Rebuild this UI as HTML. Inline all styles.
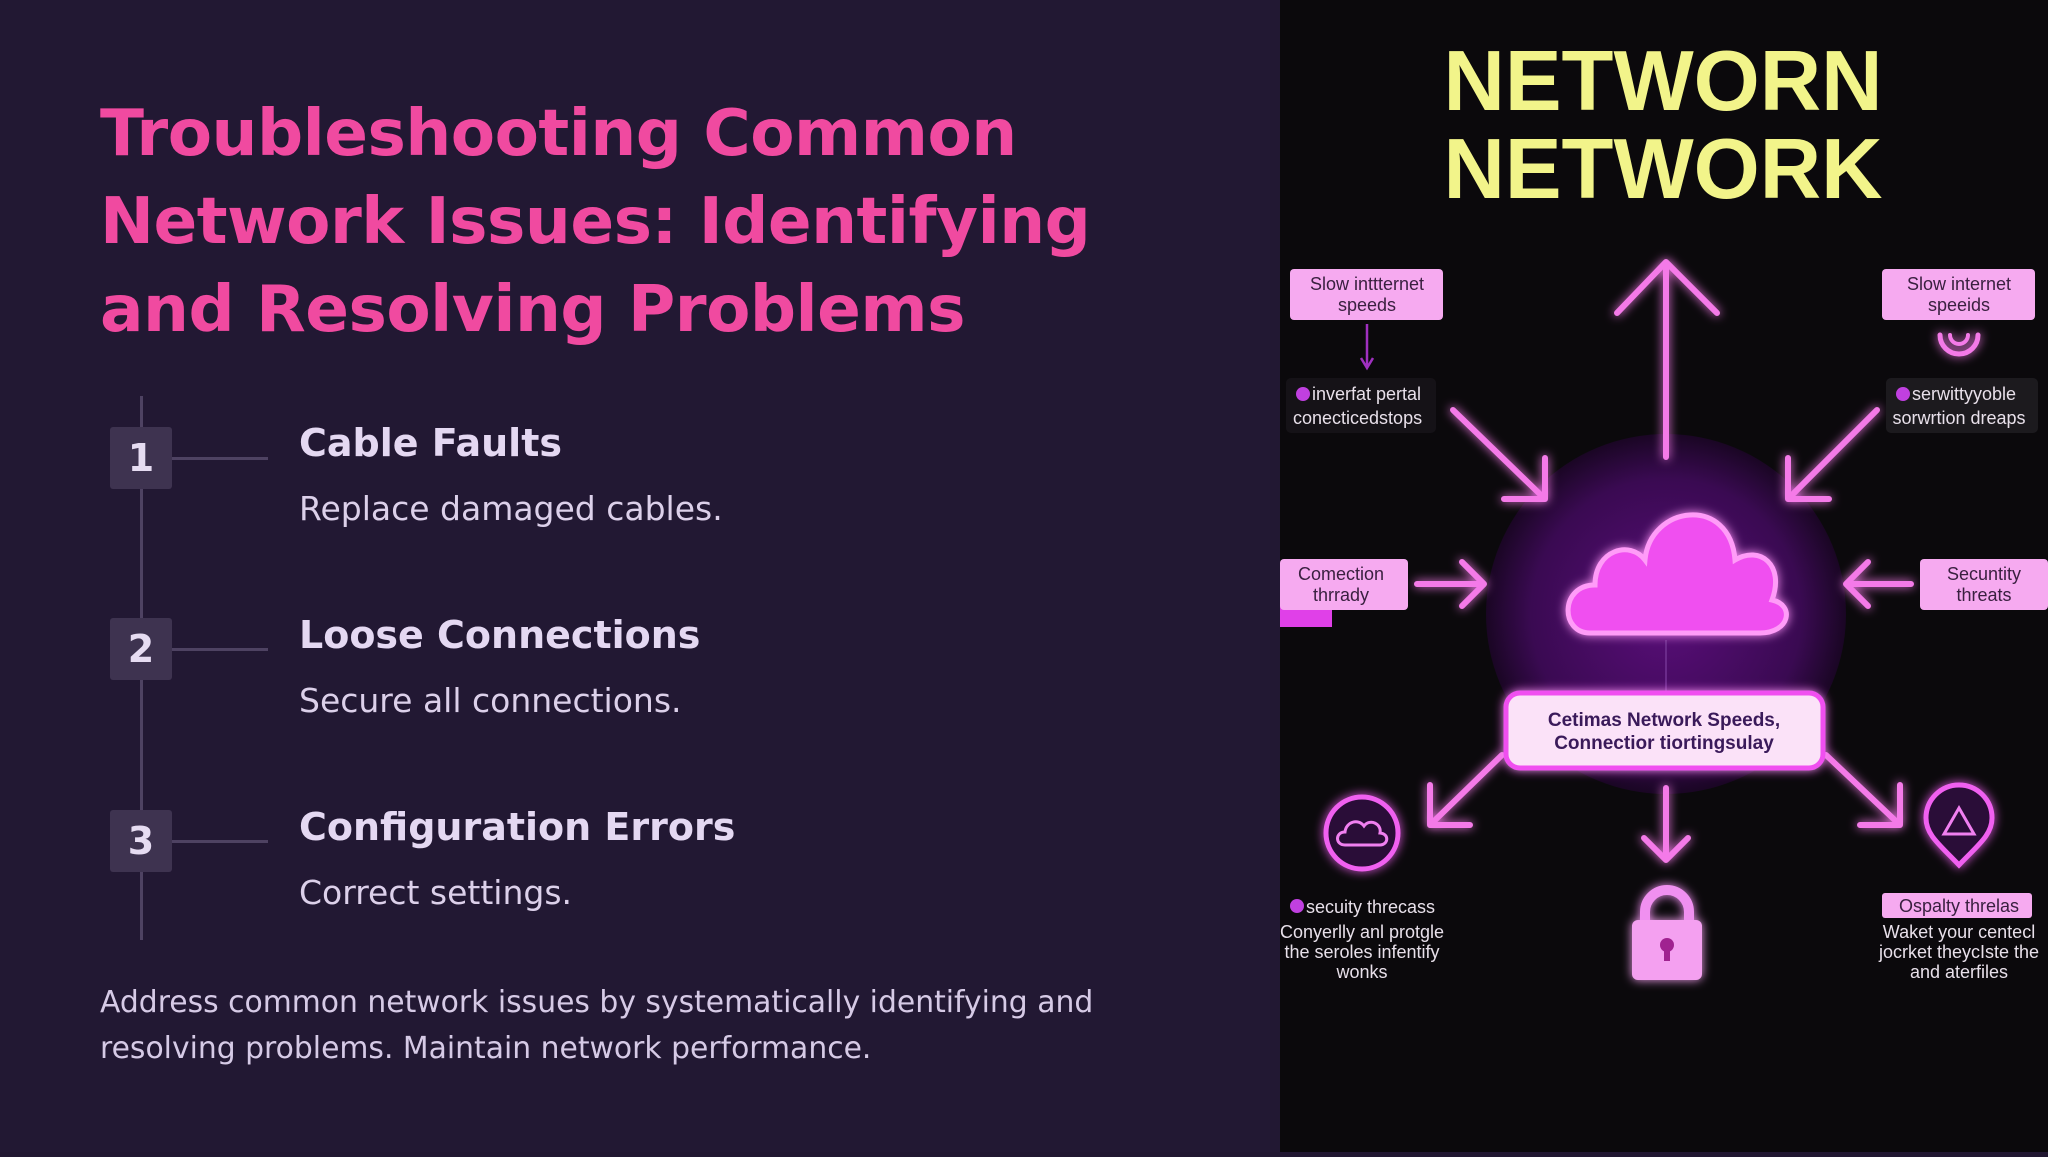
<!DOCTYPE html>
<html><head><meta charset="utf-8"><style>
html,body{margin:0;padding:0}
body{width:2048px;height:1152px;position:relative;overflow:hidden;background:#211731;font-family:"Liberation Sans",sans-serif}
.left{position:absolute;left:0;top:0;width:1280px;height:1152px;background:#221833}
h1{position:absolute;left:100px;top:90px;margin:0;font:bold 64.5px/88px "DejaVu Sans","Liberation Sans",sans-serif;color:#f04aa0;letter-spacing:-0.5px}
.vline{position:absolute;left:140px;top:396px;width:3px;height:544px;background:#4e4262}
.num{position:absolute;left:110px;width:62px;height:62px;background:#3e3350;border-radius:3px;color:#e6dcf2;font:bold 38px/62px "DejaVu Sans",sans-serif;text-align:center}
.hl{position:absolute;left:172px;width:96px;height:3px;background:#4e4262}
.h{position:absolute;left:299px;font:bold 38px/50px "DejaVu Sans",sans-serif;color:#e4d8f2}
.d{position:absolute;left:299px;font:33px/44px "DejaVu Sans",sans-serif;color:#dcd0ea}
.p{position:absolute;left:100px;top:980px;font:29.8px/46px "DejaVu Sans",sans-serif;color:#d6cae6}
.right{position:absolute;left:1280px;top:0;width:768px;height:1152px;background:#0b090c}
</style></head><body>
<div class="left">
<h1>Troubleshooting Common<br>Network Issues: Identifying<br>and Resolving Problems</h1>
<div class="vline"></div>
<div class="num" style="top:427px">1</div><div class="hl" style="top:457px"></div>
<div class="h" style="top:418px">Cable Faults</div><div class="d" style="top:487px">Replace damaged cables.</div>
<div class="num" style="top:618px">2</div><div class="hl" style="top:648px"></div>
<div class="h" style="top:610px">Loose Connections</div><div class="d" style="top:679px">Secure all connections.</div>
<div class="num" style="top:810px">3</div><div class="hl" style="top:840px"></div>
<div class="h" style="top:802px">Configuration Errors</div><div class="d" style="top:871px">Correct settings.</div>
<div class="p">Address common network issues by systematically identifying and<br>resolving problems. Maintain network performance.</div>
</div>
<div class="right">
<svg width="768" height="1152" viewBox="1280 0 768 1152" xmlns="http://www.w3.org/2000/svg" font-family="Liberation Sans, sans-serif">
<defs>
<filter id="g" x="-50%" y="-50%" width="200%" height="200%"><feGaussianBlur stdDeviation="5" result="b"/><feMerge><feMergeNode in="b"/><feMergeNode in="SourceGraphic"/></feMerge></filter>
<radialGradient id="rg"><stop offset="0" stop-color="#5a0e7a"/><stop offset="0.75" stop-color="#3a0a52"/><stop offset="1" stop-color="#1a0624"/></radialGradient>
</defs>
<text x="1663" y="110" text-anchor="middle" font-size="85" font-weight="bold" fill="#f2f48a">NETWORN</text>
<text x="1663" y="198" text-anchor="middle" font-size="85" font-weight="bold" fill="#f2f48a">NETWORK</text>
<circle cx="1666" cy="614" r="180" fill="url(#rg)"/>
<g stroke="#f47ae8" stroke-width="6" fill="none" stroke-linecap="round" stroke-linejoin="round" filter="url(#g)">
<path d="M1666 457 V262 M1617 313 L1666 262 L1717 313"/>
<path d="M1453 410 L1545 499 M1545 458 V499 H1504"/>
<path d="M1877 410 L1788 499 M1788 458 V499 H1829"/>
<path d="M1417 584 H1482 M1462 562 L1484 584 L1462 606"/>
<path d="M1911 584 H1848 M1868 562 L1846 584 L1868 606"/>
<path d="M1502 755 L1430 825 M1430 785 V825 H1470"/>
<path d="M1666 788 V860 M1644 838 L1666 860 L1688 838"/>
<path d="M1826 755 L1900 825 M1900 785 V825 H1860"/>
<path d="M1940 335 A19 19 0 0 0 1978 335" stroke-width="5"/>
<path d="M1950 335 A9 9 0 0 0 1968 335" stroke-width="4"/>
</g>
<path d="M1367 324 V366 M1361 358 L1367 368 L1373 358" stroke="#a030c0" stroke-width="2.5" fill="none"/>
<path d="M1666 640 V693" stroke="#6a2a8a" stroke-width="2"/>
<path d="M1590 633 C1560 633 1560 585 1595 585 C1595 550 1630 540 1645 560 C1650 505 1730 495 1735 560 C1760 545 1785 565 1772 600 C1795 605 1790 633 1760 633 Z" fill="#f050f0" stroke="#ff9cf8" stroke-width="5" filter="url(#g)"/>
<rect x="1290" y="269" width="153" height="51" rx="4" fill="#f6aaf0"/>
<text x="1367" y="290" text-anchor="middle" font-size="18" fill="#3a2040">Slow inttternet</text>
<text x="1367" y="311" text-anchor="middle" font-size="18" fill="#3a2040">speeds</text>
<rect x="1882" y="269" width="153" height="51" rx="4" fill="#f6aaf0"/>
<text x="1959" y="290" text-anchor="middle" font-size="18" fill="#3a2040">Slow internet</text>
<text x="1959" y="311" text-anchor="middle" font-size="18" fill="#3a2040">speeids</text>
<rect x="1286" y="378" width="150" height="55" rx="5" fill="#151217"/>
<circle cx="1303" cy="394" r="7" fill="#c040e0"/>
<text x="1312" y="400" font-size="18" fill="#e8e0ea">inverfat pertal</text>
<text x="1293" y="424" font-size="18" fill="#e8e0ea">conecticedstops</text>
<rect x="1886" y="378" width="152" height="55" rx="5" fill="#1c1a1e"/>
<circle cx="1903" cy="394" r="7" fill="#c040e0"/>
<text x="1912" y="400" font-size="18" fill="#e8e0ea">serwittyyoble</text>
<text x="1959" y="424" text-anchor="middle" font-size="18" fill="#e8e0ea">sorwrtion dreaps</text>
<rect x="1280" y="595" width="52" height="32" fill="#e040e8"/>
<rect x="1280" y="559" width="128" height="51" rx="4" fill="#f6aaf0"/>
<text x="1341" y="580" text-anchor="middle" font-size="18" fill="#3a2040">Comection</text>
<text x="1341" y="601" text-anchor="middle" font-size="18" fill="#3a2040">thrrady</text>
<rect x="1920" y="559" width="128" height="51" rx="4" fill="#f6aaf0"/>
<text x="1984" y="580" text-anchor="middle" font-size="18" fill="#3a2040">Secuntity</text>
<text x="1984" y="601" text-anchor="middle" font-size="18" fill="#3a2040">threats</text>
<rect x="1506" y="693" width="317" height="75" rx="14" fill="#fbe2f8" stroke="#f050f0" stroke-width="5" filter="url(#g)"/>
<text x="1664" y="726" text-anchor="middle" font-size="19" font-weight="bold" fill="#3a1a5a">Cetimas Network Speeds,</text>
<text x="1664" y="749" text-anchor="middle" font-size="19" font-weight="bold" fill="#3a1a5a">Connectior tiortingsulay</text>
<g filter="url(#g)">
<circle cx="1362" cy="833" r="36" fill="#2a0838" stroke="#f060f0" stroke-width="5"/>
<path d="M1345 845 C1335 845 1335 832 1345 832 C1346 822 1358 818 1364 826 C1370 818 1382 824 1380 833 C1390 834 1388 845 1380 845 Z" fill="none" stroke="#f080f0" stroke-width="3"/>
<path d="M1959 865 C1940 845 1926 835 1926 818 A33 33 0 0 1 1992 818 C1992 835 1978 845 1959 865 Z" fill="#2a0838" stroke="#f060f0" stroke-width="5"/>
<path d="M1959 808 L1974 834 H1944 Z" fill="none" stroke="#f080f0" stroke-width="3"/>
<path d="M1645 925 V912 A22 22 0 0 1 1689 912 V925" fill="none" stroke="#f090f0" stroke-width="10"/>
<rect x="1632" y="920" width="70" height="60" rx="6" fill="#f4a0f0"/>
<circle cx="1667" cy="945" r="7" fill="#a02090"/><rect x="1664" y="945" width="6" height="16" fill="#a02090"/>
</g>
<circle cx="1297" cy="906" r="7" fill="#c040e0"/>
<text x="1306" y="913" font-size="18" fill="#e8e0ea">secuity threcass</text>
<text x="1362" y="938" text-anchor="middle" font-size="18" fill="#e8e0ea">Conyerlly anl protgle</text>
<text x="1362" y="958" text-anchor="middle" font-size="18" fill="#e8e0ea">the seroles infentify</text>
<text x="1362" y="978" text-anchor="middle" font-size="18" fill="#e8e0ea">wonks</text>
<rect x="1882" y="893" width="150" height="25" rx="3" fill="#f6aaf0"/>
<text x="1959" y="912" text-anchor="middle" font-size="18" fill="#3a2040">Ospalty threlas</text>
<text x="1959" y="938" text-anchor="middle" font-size="18" fill="#e8e0ea">Waket your centecl</text>
<text x="1959" y="958" text-anchor="middle" font-size="18" fill="#e8e0ea">jocrket theycIste the</text>
<text x="1959" y="978" text-anchor="middle" font-size="18" fill="#e8e0ea">and aterfiles</text>
</svg>
</div>
</body></html>
